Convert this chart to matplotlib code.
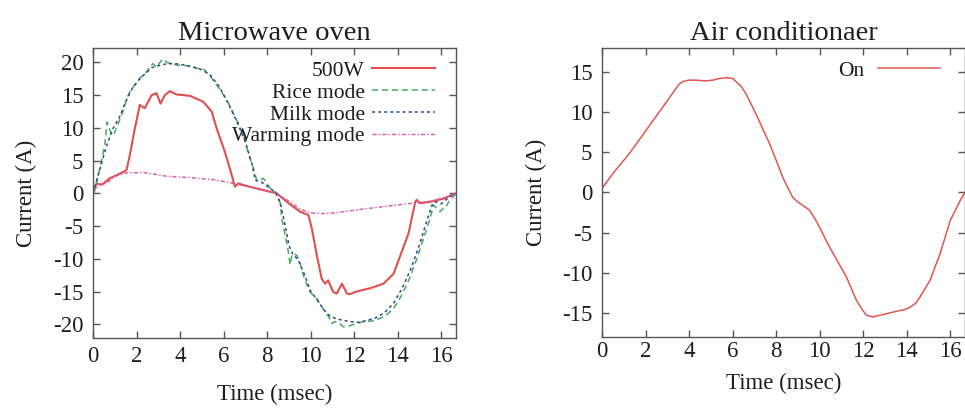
import matplotlib
matplotlib.use("Agg")
import matplotlib.pyplot as plt

plt.rcParams['font.family'] = ['Liberation Serif', 'DejaVu Serif']
plt.rcParams['axes.unicode_minus'] = False

# ---- Microwave oven data ----
t_500w = [0, 0.16, 0.4, 0.77, 1.23, 1.54, 1.69, 1.92, 2.15, 2.38, 2.69, 2.92, 3.1, 3.3, 3.53,
          3.84, 4.45, 5.06, 5.45, 5.68, 6.06, 6.37, 6.52, 6.67, 7.2, 7.82, 8.44, 8.9, 9.5, 9.89,
          10.05, 10.28, 10.5, 10.66, 10.8, 11.04, 11.2, 11.43, 11.66, 11.8, 12.1, 12.73, 13.34,
          13.8, 14.18, 14.49, 14.8, 14.87, 15.0, 15.48, 16.1, 16.67]
i_500w = [0, 1.5, 1.3, 2.3, 3.0, 3.55, 5.8, 9.9, 13.5, 13.0, 15.0, 15.3, 13.7, 15.0, 15.6,
          15.1, 14.9, 14.0, 12.5, 9.9, 6.3, 2.8, 1.0, 1.5, 1.0, 0.5, 0, -1.3, -2.8, -3.3,
          -5.4, -9.5, -13.0, -13.8, -13.3, -15.1, -15.3, -13.8, -15.3, -15.4, -15.0, -14.5, -13.8,
          -12.3, -8.9, -6.1, -1.3, -1.0, -1.5, -1.3, -0.8, 0]

t_rice = [0, 0.15, 0.31, 0.54, 0.65, 0.72, 0.85, 0.93, 1.07, 1.2, 1.38, 1.55, 1.69, 1.9, 2.15,
          2.4, 2.61, 2.75, 2.92, 3.05, 3.2, 3.4, 3.84, 4.3, 4.76, 5.07, 5.3, 5.52, 5.8, 6.14,
          6.45, 6.75, 7.0, 7.13, 7.35, 7.52, 7.65, 7.82, 8.0, 8.13, 8.3, 8.44, 8.6, 8.67, 8.82,
          8.95, 9.05, 9.13, 9.25, 9.36, 9.5, 9.66, 9.8, 9.97, 10.28, 10.45, 10.66, 10.85, 10.97,
          11.1, 11.3, 11.5, 11.8, 12.1, 12.42, 12.8, 13.19, 13.5, 13.8, 14.1, 14.41, 14.65, 14.87,
          15.18, 15.48, 15.64, 15.8, 15.94, 16.05, 16.17, 16.35, 16.48, 16.67]
i_rice = [0, 1.5, 3.8, 7.4, 10.9, 10.2, 9.0, 8.9, 9.9, 11.0, 12.5, 14.5, 15.5, 16.5, 17.6,
          18.3, 19.3, 19.8, 19.3, 19.9, 20.5, 20.0, 19.6, 19.5, 19.1, 19.0, 18.2, 17.3, 16.0, 14.3,
          12.2, 10.2, 8.0, 6.1, 4.0, 2.0, 2.0, 2.3, 1.5, 0.75, 0.4, 0, -1.5, -3.8, -6.4,
          -8.5, -10.9, -9.5, -9.2, -9.5, -10.5, -12.5, -13.8, -15.1, -16.1, -17.0, -18.1, -19.0, -19.9,
          -19.6, -19.8, -20.4, -20.2, -19.9, -19.6, -19.5, -19.1, -18.5, -17.6, -16.0, -14.0, -12.0, -10.0,
          -6.9, -3.8, -1.8, -2.3, -2.8, -2.4, -2.3, -1.2, -0.8, 0]

t_milk = [0, 0.3, 0.6, 0.9, 1.2, 1.5, 1.8, 2.1, 2.4, 2.7, 3.0, 3.4, 3.8, 4.2, 4.6,
          5.0, 5.4, 5.8, 6.2, 6.6, 7.0, 7.3, 7.45, 7.7, 7.95, 8.2, 8.4, 8.6, 8.8, 9.0,
          9.2, 9.4, 9.7, 10.0, 10.3, 10.6, 10.9, 11.2, 11.5, 11.8, 12.2, 12.6, 13.0, 13.4, 13.8,
          14.2, 14.6, 15.0, 15.3, 15.6, 15.8, 16.0, 16.2, 16.4, 16.67]
i_milk = [0, 3.5, 7.0, 9.8, 11.5, 14.0, 16.0, 17.3, 18.3, 19.2, 19.5, 19.8, 19.8, 19.6, 19.3,
          18.9, 18.0, 16.3, 13.8, 11.0, 7.8, 4.5, 2.0, 1.8, 1.2, 0.6, 0.0, -1.5, -4.5, -8.0,
          -9.5, -10.0, -12.3, -15.0, -16.3, -17.8, -18.8, -19.2, -19.4, -19.6, -19.7, -19.4, -19.0, -18.2, -16.8,
          -14.5, -11.5, -7.8, -4.5, -1.5, -1.3, -1.6, -1.0, -0.5, 0]

t_warm = [0, 0.3, 0.6, 1.0, 1.5, 2.3, 3.4, 4.45, 5.5, 6.2, 7.0, 7.8, 8.4, 9.0, 9.5,
          10.0, 10.5, 11.1, 12.4, 13.9, 14.7, 15.5, 16.1, 16.67]
i_warm = [0, 1.4, 1.5, 2.6, 3.1, 3.2, 2.6, 2.4, 2.1, 1.7, 1.1, 0.5, 0, -1.2, -2.4,
          -3.0, -3.1, -3.0, -2.4, -1.8, -1.5, -1.2, -0.7, 0]

# ---- Air conditioner data ----
t_ac = [0, 0.48, 1.24, 2.01, 2.78, 3.2, 3.54, 3.75, 4.0, 4.3, 4.77, 5.1, 5.38, 5.77, 6.0,
        6.16, 6.4, 6.61, 7.07, 7.69, 8.0, 8.3, 8.55, 8.76, 9.0, 9.22, 9.53, 9.83, 10.45, 11.22,
        11.68, 11.95, 12.15, 12.45, 13.06, 13.68, 13.9, 14.14, 14.4, 14.61, 15.07, 15.53, 15.99,
        16.45, 16.67]
i_ac = [0.5, 2.3, 4.8, 7.7, 10.6, 12.2, 13.5, 13.85, 14.0, 14.0, 13.9, 14.0, 14.2, 14.3, 14.2,
        13.8, 13.2, 12.3, 9.8, 6.1, 4.0, 1.9, 0.5, -0.6, -1.2, -1.6, -2.2, -3.5, -6.8, -10.5,
        -13.4, -14.6, -15.3, -15.5, -15.1, -14.7, -14.6, -14.3, -13.8, -13.0, -10.9, -7.6, -3.5,
        -1.0, 0]

left_xticks = [0, 2, 4, 6, 8, 10, 12, 14, 16]
left_yticks = [-20, -15, -10, -5, 0, 5, 10, 15, 20]
right_yticks = [-15, -10, -5, 0, 5, 10, 15]

W, H = 965, 408
fig = plt.figure(figsize=(W / 100, H / 100), dpi=100)

def box(l, t, r, b):
    return [l / W, 1 - b / H, (r - l) / W, (b - t) / H]

ax1 = fig.add_axes(box(93, 48, 456, 338))
ax2 = fig.add_axes(box(602, 48, 965, 337))

txt_col = '#1e1e1e'
spine_col = '#555555'
TICK_FS = 16.5
LAB_FS = 16.5
TITLE_FS = 20.5
LEG_FS = 15.5
for ax in (ax1, ax2):
    for s in ax.spines.values():
        s.set_color(spine_col)
        s.set_linewidth(1.0)
    ax.tick_params(direction='in', top=True, right=True, length=5, width=1.0,
                   color=spine_col, labelsize=TICK_FS, labelcolor=txt_col)
    ax.tick_params(axis='y', pad=7)

ax1.plot(t_500w, i_500w, color='#e0504c', lw=1.5, label='500W')
ax1.plot(t_rice, i_rice, color='#45ad5e', lw=1.1, ls=(0, (4, 2.5)), label='Rice mode')
ax1.plot(t_milk, i_milk, color='#33479a', lw=1.1, ls=(0, (2, 2)), label='Milk mode')
ax1.plot(t_warm, i_warm, color='#d9559f', lw=1.0, ls=(0, (3, 1.5, 1, 1.5)), label='Warming mode')
ax1.set_xlim(0, 16.67)
ax1.set_ylim(-22.1, 22.2)
ax1.set_xticks(left_xticks)
ax1.set_yticks(left_yticks)
ax1.tick_params(axis='x', pad=6)
ax1.set_title('Microwave oven', fontsize=TITLE_FS, pad=6, color=txt_col)
ax1.set_xlabel('Time (msec)', fontsize=LAB_FS, labelpad=12, color=txt_col)
ax1.set_ylabel('Current (A)', fontsize=LAB_FS, labelpad=11, color=txt_col)
leg1 = ax1.legend(loc='upper right', bbox_to_anchor=(0.965, 0.985), frameon=False,
                  markerfirst=False, fontsize=LEG_FS, handlelength=2.9, labelspacing=0.08,
                  handletextpad=0.35, borderaxespad=0.0)
for txt in leg1.get_texts():
    txt.set_ha('right')
    txt.set_color(txt_col)
leg1._legend_box.align = 'right'

ax2.plot(t_ac, i_ac, color='#e0564f', lw=1.1, label='On')
ax2.set_xlim(0, 16.67)
ax2.set_ylim(-18, 18)
ax2.set_xticks(left_xticks)
ax2.set_yticks(right_yticks)
ax2.tick_params(axis='x', pad=3)
ax2.set_title('Air conditionaer', fontsize=TITLE_FS, pad=6, color=txt_col)
ax2.set_xlabel('Time (msec)', fontsize=LAB_FS, labelpad=8, color=txt_col)
ax2.set_ylabel('Current (A)', fontsize=LAB_FS, labelpad=11, color=txt_col)
leg2 = ax2.legend(loc='upper right', bbox_to_anchor=(0.955, 0.985), frameon=False,
                  markerfirst=False, fontsize=LEG_FS, handlelength=2.9,
                  handletextpad=0.6, borderaxespad=0.0)
for txt in leg2.get_texts():
    txt.set_color(txt_col)

fig.savefig('out.png', dpi=100)
